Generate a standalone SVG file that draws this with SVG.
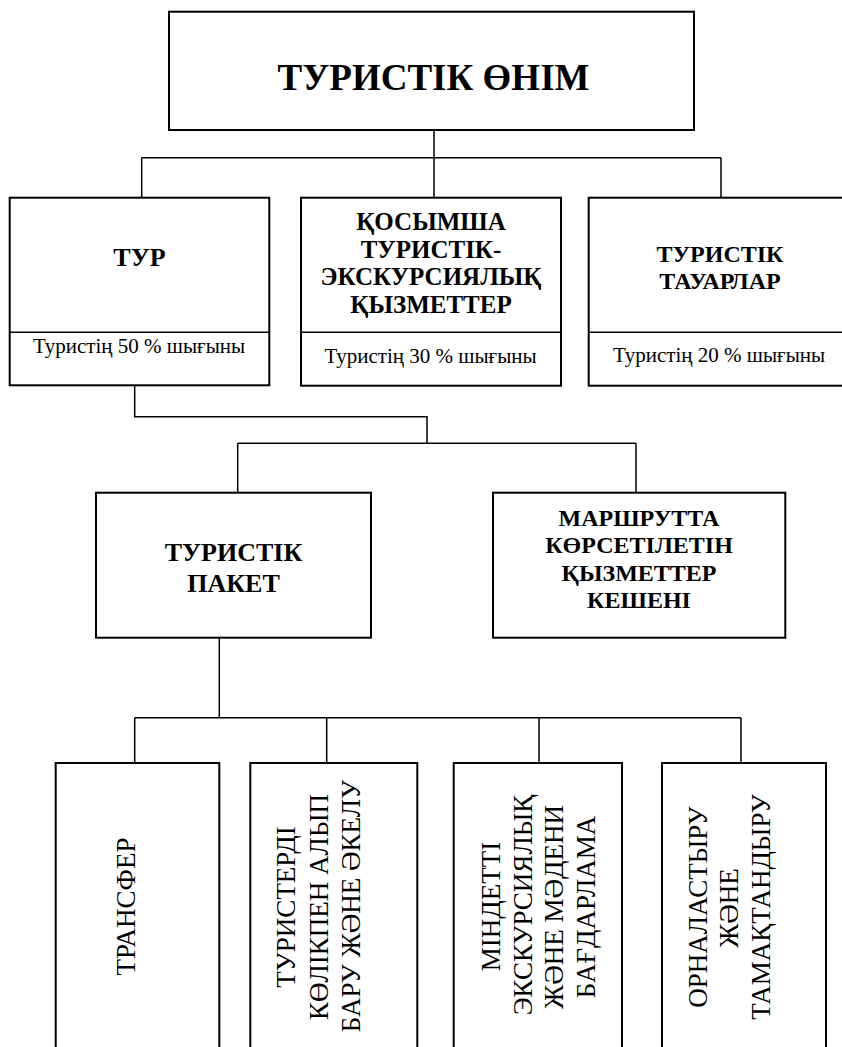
<svg xmlns="http://www.w3.org/2000/svg" width="842" height="1047" viewBox="0 0 842 1047">
  <style>
    .box { fill: #fff; stroke: #000; stroke-width: 2; }
    .div { stroke: #000; stroke-width: 1.5; fill: none; }
    .wire { stroke: #000; stroke-width: 1.5; fill: none; }
    .hd { font-family: "Liberation Serif", "DejaVu Serif", serif; font-weight: bold; font-size: 26px; text-anchor: middle; fill: #000; }
    .sub { font-family: "Liberation Serif", "DejaVu Serif", serif; font-size: 21px; text-anchor: middle; fill: #000; }
    .vt { font-family: "Liberation Serif", "DejaVu Serif", serif; font-size: 27px; text-anchor: middle; fill: #000; }
  </style>
  <rect width="842" height="1047" fill="#fff"/>

  <!-- connectors -->
  <g id="connectors">
    <path class="wire" d="M434 130 V157.7 M141.7 157.7 H721 M141.7 157.7 V197.7 M434 157.7 V197.7 M721 157.7 V197.7"/>
    <path class="wire" d="M134.7 385.3 V416.7 H427 V443.3 M237.7 443.3 H636 M237.7 443.3 V492.7 M636 443.3 V492.7"/>
    <path class="wire" d="M219.3 637.7 V717.7 M134.7 717.7 H741 M134.7 717.7 V763 M326.7 717.7 V763 M539 717.7 V763 M741 717.7 V763"/>
  </g>

  <!-- root -->
  <g id="product">
    <rect class="box" x="169" y="11.7" width="525" height="118.3"/>
    <text class="hd" x="433.5" y="90" style="font-size:37px">ТУРИСТІК ӨНІМ</text>
  </g>

  <!-- second level -->
  <g id="tour">
    <rect class="box" x="9.7" y="197.7" width="259.6" height="187.6"/>
    <line class="div" x1="9.7" y1="332.3" x2="269.3" y2="332.3"/>
    <text class="hd" x="139.5" y="265.7">ТУР</text>
    <text class="sub" x="139" y="352.7">Туристің 50 % шығыны</text>
  </g>
  <g id="extra-services" style="font-size:25px">
    <rect class="box" x="301" y="197.7" width="260" height="188"/>
    <line class="div" x1="301" y1="332.3" x2="561" y2="332.3"/>
    <text class="hd" x="431" y="230" style="font-size:25px">ҚОСЫМША</text>
    <text class="hd" x="431" y="257.7" style="font-size:25px">ТУРИСТІК-</text>
    <text class="hd" x="431" y="285.3" style="font-size:25px">ЭКСКУРСИЯЛЫҚ</text>
    <text class="hd" x="431" y="313" style="font-size:25px">ҚЫЗМЕТТЕР</text>
    <text class="sub" x="430.5" y="362.7">Туристің 30 % шығыны</text>
  </g>
  <g id="goods">
    <rect class="box" x="588.7" y="197.7" width="264" height="188"/>
    <line class="div" x1="588.7" y1="332.3" x2="852.7" y2="332.3"/>
    <text class="hd" x="720" y="261.7" style="font-size:24px">ТУРИСТІК</text>
    <text class="hd" x="720" y="289.3" style="font-size:24px">ТАУАРЛАР</text>
    <text class="sub" x="719" y="362">Туристің 20 % шығыны</text>
  </g>

  <!-- third level -->
  <g id="package">
    <rect class="box" x="96" y="492.7" width="275" height="145"/>
    <text class="hd" x="233.5" y="561">ТУРИСТІК</text>
    <text class="hd" x="233.5" y="592">ПАКЕТ</text>
  </g>
  <g id="route-services">
    <rect class="box" x="493" y="492.7" width="292.3" height="145"/>
    <text class="hd" x="639" y="526" style="font-size:24px">МАРШРУТТА</text>
    <text class="hd" x="639" y="553.3" style="font-size:24px">КӨРСЕТІЛЕТІН</text>
    <text class="hd" x="639" y="580.7" style="font-size:24px">ҚЫЗМЕТТЕР</text>
    <text class="hd" x="639" y="608" style="font-size:24px">КЕШЕНІ</text>
  </g>

  <!-- package components (vertical labels) -->
  <g id="transfer">
    <rect class="box" x="55.7" y="763" width="163.6" height="300"/>
    <text class="vt" transform="translate(135 906.5) rotate(-90)">ТРАНСФЕР</text>
  </g>
  <g id="transport">
    <rect class="box" x="250.3" y="763" width="167" height="300"/>
    <text class="vt" transform="translate(295 907) rotate(-90)">ТУРИСТЕРДІ</text>
    <text class="vt" transform="translate(328 907) rotate(-90)">КӨЛІКПЕН АЛЫП</text>
    <text class="vt" transform="translate(360 906) rotate(-90)">БАРУ ЖӘНЕ ӘКЕЛУ</text>
  </g>
  <g id="programme">
    <rect class="box" x="453.7" y="763" width="168.3" height="300"/>
    <text class="vt" transform="translate(500 906.5) rotate(-90)">МІНДЕТТІ</text>
    <text class="vt" transform="translate(531.7 905) rotate(-90)">ЭКСКУРСИЯЛЫҚ</text>
    <text class="vt" transform="translate(563.3 907) rotate(-90)">ЖӘНЕ МӘДЕНИ</text>
    <text class="vt" transform="translate(595 907) rotate(-90)">БАҒДАРЛАМА</text>
  </g>
  <g id="lodging">
    <rect class="box" x="662" y="763" width="164" height="300"/>
    <text class="vt" transform="translate(706.7 907) rotate(-90)">ОРНАЛАСТЫРУ</text>
    <text class="vt" transform="translate(738 908) rotate(-90)">ЖӘНЕ</text>
    <text class="vt" transform="translate(770 907) rotate(-90)">ТАМАҚТАНДЫРУ</text>
  </g>
</svg>
